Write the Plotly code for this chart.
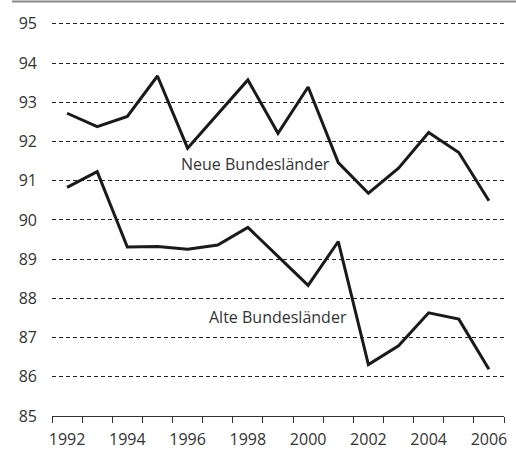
import plotly.graph_objects as go

years = list(range(1992, 2007))
neue = [92.72, 92.38, 92.64, 93.67, 91.83, 92.69, 93.57, 92.21, 93.39, 91.46,
        90.68, 91.32, 92.23, 91.72, 90.49]
alte = [90.83, 91.23, 89.31, 89.32, 89.25, 89.36, 89.81, 89.06, 88.33, 89.45,
        86.31, 86.79, 87.63, 87.47, 86.19]
y_ticks = list(range(85, 96))
x_labels = list(range(1992, 2007, 2))
boundaries = [y - 0.5 for y in range(1992, 2008)]

text_color = "#333333"
line_color = "#1a1a1a"
font_family = "Open Sans"

fig = go.Figure()
fig.add_trace(go.Scatter(x=years, y=neue, mode="lines", name="Neue Bundesländer",
                         line=dict(color=line_color, width=3), showlegend=False))
fig.add_trace(go.Scatter(x=years, y=alte, mode="lines", name="Alte Bundesländer",
                         line=dict(color=line_color, width=3), showlegend=False))
# invisible trace for label axis
fig.add_trace(go.Scatter(x=[years[0]], y=[neue[0]], xaxis="x2", mode="markers",
                         marker=dict(opacity=0), showlegend=False, hoverinfo="skip"))

fig.update_layout(
    width=516, height=452,
    margin=dict(l=52, r=12, t=16, b=36, autoexpand=False),
    paper_bgcolor="white", plot_bgcolor="white",
    font=dict(family=font_family, size=16, color=text_color),
    xaxis=dict(range=[1991.5, 2006.5], tickmode="array", tickvals=boundaries,
               ticktext=[""] * len(boundaries), ticks="outside", ticklen=6,
               tickcolor="#333333", tickwidth=1, showline=True, linecolor="#333333",
               linewidth=1, showgrid=False, zeroline=False, automargin=False),
    xaxis2=dict(range=[1991.5, 2006.5], overlaying="x", side="bottom",
                tickmode="array", tickvals=x_labels, ticktext=[str(v) for v in x_labels],
                ticks="", showline=False, showgrid=False, zeroline=False,
                ticklabelstandoff=12, automargin=False,
                tickfont=dict(size=16, color=text_color)),
    yaxis=dict(range=[85, 95.2], tickmode="array", tickvals=y_ticks,
               ticktext=[str(v) for v in y_ticks], showgrid=True,
               gridcolor="#222222", griddash="4px,3px", gridwidth=1,
               zeroline=False, showline=False, ticks="", ticklabelstandoff=14,
               automargin=False,
               tickfont=dict(size=16, color=text_color)),
    shapes=[dict(type="rect", xref="paper", yref="paper", x0=-0.0885, x1=1.03,
                 y0=1.034, y1=1.039, fillcolor="#8a8a8a", line=dict(width=0),
                 layer="above")],
    annotations=[
        dict(x=1998.26, y=91.43, xref="x", yref="y", text="Neue Bundesländer",
             showarrow=False, font=dict(size=16, color=text_color)),
        dict(x=1999.01, y=87.52, xref="x", yref="y", text="Alte Bundesländer",
             showarrow=False, font=dict(size=16, color=text_color)),
    ],
)

fig.write_html("out.html", config={"displayModeBar": False},
               post_script="document.body.style.margin='0';document.body.style.padding='0';")
